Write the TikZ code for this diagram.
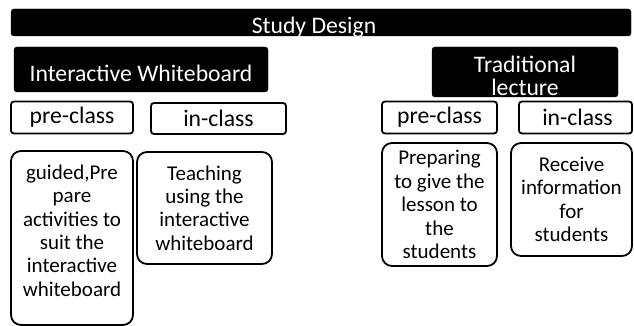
\documentclass[tikz,border=0pt]{standalone}
\usepackage{fontspec}
\setmainfont{Carlito}
\tikzset{
    head/.style = {draw, fill=black, text=white, rounded corners=3pt,
        inner sep=0pt, font=\fontsize{23.7}{24}\selectfont},
    tag/.style = {draw, line width=1.8pt, rounded corners=3pt,
        inner sep=0pt, minimum height=32pt, font=\fontsize{23.7}{24}\selectfont},
    block/.style = {draw, line width=1.8pt, rounded corners=10pt,
        inner sep=0pt, align=center, font=\fontsize{21}{23.4}\selectfont}
}

\begin{document}
\begin{tikzpicture}[x=1pt, y=-1pt]
        \useasboundingbox (0,0) rectangle (634,326);
        % headings
        \node [head, minimum width=620pt, minimum height=27pt, text height=25pt, text depth=2pt, name=design] at (321,22.5) {\kern-14pt Study Design};
        \node [head, minimum width=254pt, minimum height=45pt, text height=35pt, text depth=10pt, name=iwb] at (141,69.5) {Interactive Whiteboard};
        \node [head, minimum width=186pt, minimum height=50pt, align=center, text height=49pt, text depth=1pt, name=trad] at (525,72) {Traditional\\lecture};
        % class tags
        \node [tag, minimum width=122pt, name=preL] at (72,117.5) {pre-class};
        \node [tag, minimum width=135pt, minimum height=31pt, right of=preL, node distance=146.5pt, yshift=-1pt, name=inL] {in-class};
        \node [tag, minimum width=115pt, name=preR] at (439.5,117.5) {pre-class};
        \node [tag, minimum width=113pt, right of=preR, node distance=136pt, name=inR] {\kern4pt in-class};
        % contents
        \node [block, minimum width=122pt, minimum height=174pt, text depth=15pt, name=guideL] at (72,238) {guided,Pre\\pare\\activities to\\suit the\\interactive\\whiteboard};
        \node [block, minimum width=135pt, minimum height=112pt, name=teachL] at (204.5,208) {Teaching\\using the\\interactive\\whiteboard};
        \node [block, minimum width=115pt, minimum height=123pt, name=prepR] at (439.5,204.5) {Preparing\\to give the\\lesson to\\the\\students};
        \node [block, minimum width=121pt, minimum height=113pt, name=recvR] at (571.5,199.5) {Receive\\information\\for\hspace*{18pt}\\students};
\end{tikzpicture}
\end{document}
